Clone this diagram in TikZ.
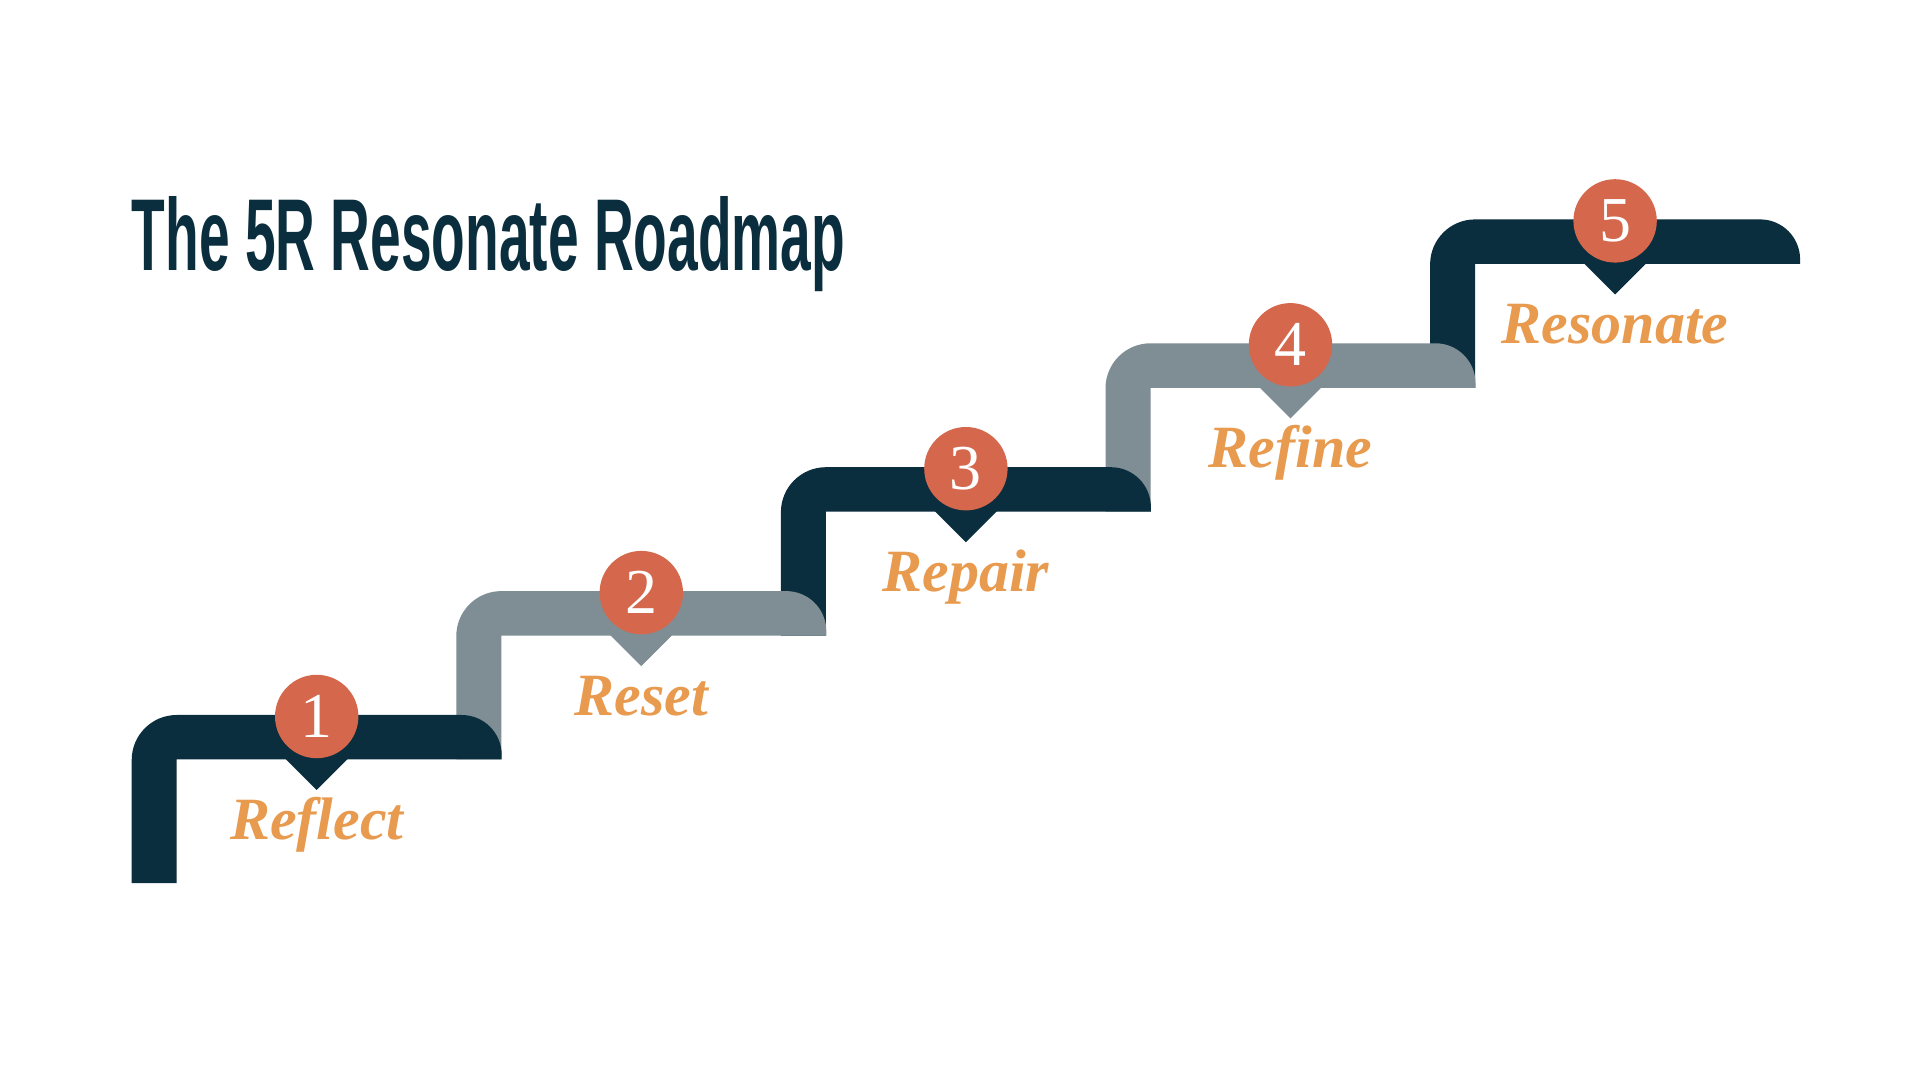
\documentclass[tikz,border=0pt]{standalone}
\usepackage{fontspec}
\setmainfont{Liberation Serif}
\newfontfamily\titlefont{Liberation Sans}
\definecolor{stepdark}{HTML}{0A2E3E}
\definecolor{stepgray}{HTML}{7F8E95}
\definecolor{dotred}{HTML}{D4674C}
\definecolor{labelorange}{HTML}{E89A4E}
\tikzset{
  numdot/.style={circle, fill=dotred, text=white, minimum size=83.4pt, inner sep=0pt, font=\fontsize{64}{64}\selectfont},
  steplabel/.style={anchor=base, inner sep=0pt, text=labelorange, font=\fontsize{60}{60}\selectfont\bfseries\itshape},
}
\begin{document}
\begin{tikzpicture}[x=1pt,y=1pt]
    \fill[white] (0,0) rectangle (1920,1080);
    \useasboundingbox (0,0) rectangle (1920,1080);
    % Title
    \node[anchor=base west, inner sep=0pt, text=stepdark] (title) at (131.7,809.3)
        {\resizebox{713pt}{74pt}{\titlefont\bfseries The 5R Resonate Roadmap}};
    % Steps, top one first so lower steps cover the risers
    \foreach \i/\col in {4/stepdark, 3/stepgray, 2/stepdark, 1/stepgray, 0/stepdark} {
        \pgfmathsetmacro\L{131.7+324.6*\i}
        \pgfmathsetmacro\T{365+123.9*\i}
        \pgfmathsetmacro\B{\i==0 ? 197 : \T-168.4}
        \fill[\col] (\L,\B) -- (\L,\T-45) arc[start angle=180, end angle=90, radius=45]
            -- (\L+330,\T) arc[start angle=90, end angle=0, radius=40]
            -- (\L+370,\T-44.5) -- (\L+45,\T-44.5) -- (\L+45,\B) -- cycle;
        \fill[\col] (\L+143,\T-33) -- (\L+227,\T-33) -- (\L+185,\T-75) -- cycle;
    }
    % Markers and labels
    \foreach \i/\num/\name in {0/1/Reflect, 1/2/Reset, 2/3/Repair, 3/4/Refine, 4/5/Resonate} {
        \pgfmathsetmacro\L{131.7+324.6*\i}
        \pgfmathsetmacro\T{365+123.9*\i}
        \node[numdot] (n\num) at (\L+185,\T-1.5) {\num};
        \node[steplabel] (l\num) at (\L+185,\T-124.5) {\name};
    }
\end{tikzpicture}
\end{document}
